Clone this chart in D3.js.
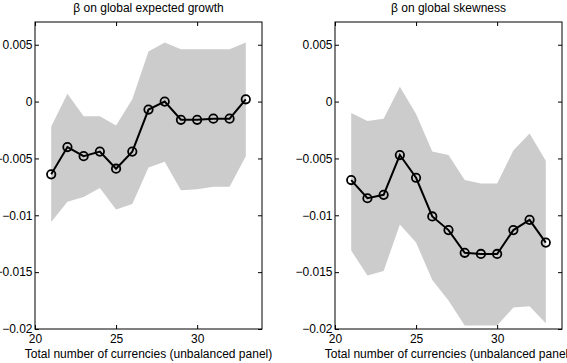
<!DOCTYPE html>
<meta charset="utf-8">
<script src="https://d3js.org/d3.v7.min.js"></script>
<style>
body { margin: 0; background: #fff; }
text { font-family: "Liberation Sans", Arial, sans-serif; font-size: 12px; fill: #000; }
</style>
<body>
<div id="chart"></div>
<script>

// number of currencies on x
var counts = [21, 22, 23, 24, 25, 26, 27, 28, 29, 30, 31, 32, 33];

// left panel: beta on global expected growth
var growthBeta  = [-0.0064, -0.0040, -0.0048, -0.0044, -0.0059, -0.0044, -0.0007, 0.0000, -0.0016, -0.0016, -0.0015, -0.0015, 0.0002];
var growthUpper = [-0.0022, 0.0007, -0.0013, -0.0013, -0.0021, 0.0002, 0.0044, 0.0052, 0.0046, 0.0046, 0.0046, 0.0046, 0.0052];
var growthLower = [-0.0106, -0.0088, -0.0084, -0.0076, -0.0095, -0.0090, -0.0058, -0.0053, -0.0078, -0.0077, -0.0075, -0.0075, -0.0048];

// right panel: beta on global skewness
var skewBeta  = [-0.0069, -0.0085, -0.0082, -0.0047, -0.0067, -0.0101, -0.0113, -0.0133, -0.0134, -0.0134, -0.0113, -0.0104, -0.0124];
var skewUpper = [-0.0010, -0.0017, -0.0015, 0.0013, -0.0011, -0.0044, -0.0047, -0.0069, -0.0072, -0.0072, -0.0043, -0.0028, -0.0052];
var skewLower = [-0.0131, -0.0153, -0.0149, -0.0108, -0.0124, -0.0157, -0.0175, -0.0197, -0.0197, -0.0197, -0.0181, -0.0180, -0.0195];

var yTicks = [0.005, 0, -0.005, -0.01, -0.015, -0.02];
var yTickLabels = ["0.005", "0", "\u22120.005", "\u22120.01", "\u22120.015", "\u22120.02"];
var xTicks = [20, 25, 30];

var titles = ["\u03b2 on global expected growth", "\u03b2 on global skewness"];
var xLabel = "Total number of currencies (unbalanced panel)";

var W = 567, H = 363;
var svg = d3.select("#chart").append("svg")
    .attr("width", W)
    .attr("height", H);

var panels = [
  {left: 35, beta: growthBeta, upper: growthUpper, lower: growthLower, title: titles[0]},
  {left: 335, beta: skewBeta, upper: skewUpper, lower: skewLower, title: titles[1]}
];

var pw = 227, plotTop = 22, plotBottom = 329;

panels.forEach(function(p) {
  var x = d3.scaleLinear().domain([20, 34]).range([p.left, p.left + pw]);
  var y = d3.scaleLinear().domain([-0.02, 0.007]).range([plotBottom, plotTop]);
  var g = svg.append("g");

  var rows = counts.map(function(c, i) {
    return {n: c, b: p.beta[i], hi: p.upper[i], lo: p.lower[i]};
  });

  // confidence band
  g.append("path")
    .datum(rows)
    .attr("fill", "#cccccc")
    .attr("d", d3.area()
      .x(function(d) { return x(d.n); })
      .y0(function(d) { return y(d.lo); })
      .y1(function(d) { return y(d.hi); }));

  // estimate line
  g.append("path")
    .datum(rows)
    .attr("fill", "none")
    .attr("stroke", "#000")
    .attr("stroke-width", 2)
    .attr("d", d3.line()
      .x(function(d) { return x(d.n); })
      .y(function(d) { return y(d.b); }));

  g.selectAll("circle")
    .data(rows)
    .enter()
    .append("circle")
      .attr("cx", function(d) { return x(d.n); })
      .attr("cy", function(d) { return y(d.b); })
      .attr("r", 4.2)
      .attr("fill", "none")
      .attr("stroke", "#000")
      .attr("stroke-width", 1.8);

  // axes, matlab style: ticks inside on all sides
  var tl = 4;
  g.append("g")
    .attr("transform", "translate(0," + plotBottom + ")")
    .call(d3.axisBottom(x).tickValues(xTicks).tickSizeInner(-tl).tickSizeOuter(0).tickPadding(5));
  g.append("g")
    .attr("transform", "translate(0," + plotTop + ")")
    .call(d3.axisTop(x).tickValues(xTicks).tickSizeInner(-tl).tickSizeOuter(0).tickFormat(""));
  g.append("g")
    .attr("transform", "translate(" + p.left + ",0)")
    .call(d3.axisLeft(y).tickValues(yTicks).tickSizeInner(-tl).tickSizeOuter(0).tickPadding(2.5)
      .tickFormat(function(d, i) { return yTickLabels[i]; }));
  g.append("g")
    .attr("transform", "translate(" + (p.left + pw) + ",0)")
    .call(d3.axisRight(y).tickValues(yTicks).tickSizeInner(-tl).tickSizeOuter(0).tickFormat(""));

  g.selectAll(".domain").remove();
  g.selectAll(".tick line").attr("stroke", "#000");
  g.selectAll(".tick text").attr("font-family", null).attr("font-size", null);

  g.append("rect")
    .attr("x", p.left).attr("y", plotTop)
    .attr("width", pw).attr("height", plotBottom - plotTop)
    .attr("fill", "none")
    .attr("stroke", "#000")
    .attr("stroke-width", 1);

  g.append("text")
    .attr("x", p.left + pw / 2)
    .attr("y", 12)
    .attr("text-anchor", "middle")
    .text(p.title);

  g.append("text")
    .attr("x", p.left + pw / 2)
    .attr("y", 358)
    .attr("text-anchor", "middle")
    .text(xLabel);
});
</script>
</body>
